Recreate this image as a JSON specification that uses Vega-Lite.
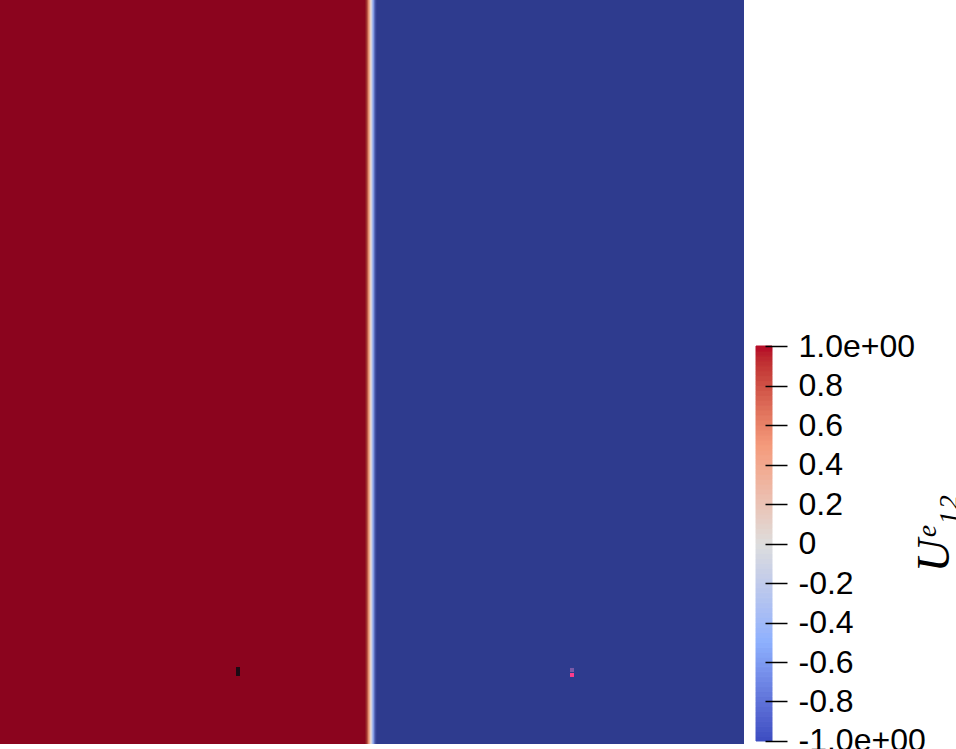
{
  "$schema": "https://vega.github.io/schema/vega-lite/v6.json",
  "padding": 0,
  "background": "white",
  "autosize": {"type": "pad"},
  "spacing": 11,
  "config": {"view": {"stroke": null}},
  "resolve": {"scale": {"color": "independent", "x": "independent", "y": "independent"}},
  "datasets": {
    "field": [
      {"x0": 0, "x1": 0.49059, "u12": 1},
      {"x0": 0.49059, "x1": 0.49194, "u12": 0.97},
      {"x0": 0.49194, "x1": 0.49328, "u12": 0.9},
      {"x0": 0.49328, "x1": 0.49462, "u12": 0.75},
      {"x0": 0.49462, "x1": 0.49597, "u12": 0.55},
      {"x0": 0.49597, "x1": 0.49731, "u12": 0.35},
      {"x0": 0.49731, "x1": 0.49866, "u12": 0.1},
      {"x0": 0.49866, "x1": 0.5, "u12": -0.12},
      {"x0": 0.5, "x1": 0.50134, "u12": -0.35},
      {"x0": 0.50134, "x1": 0.50269, "u12": -0.55},
      {"x0": 0.50269, "x1": 0.50403, "u12": -0.75},
      {"x0": 0.50403, "x1": 0.50538, "u12": -0.9},
      {"x0": 0.50538, "x1": 0.50672, "u12": -0.97},
      {"x0": 0.50672, "x1": 1, "u12": -1}
    ],
    "markers": [
      {"kind": "dark", "x0": 0.3172, "x1": 0.3226, "y0": 0.0914, "y1": 0.1035},
      {"kind": "faint", "x0": 0.7661, "x1": 0.7715, "y0": 0.0968, "y1": 0.1022},
      {"kind": "pink", "x0": 0.7661, "x1": 0.7715, "y0": 0.0901, "y1": 0.0954}
    ],
    "bar": [
      {"lo": -1, "hi": -0.975, "v": -0.9875},
      {"lo": -0.975, "hi": -0.95, "v": -0.9625},
      {"lo": -0.95, "hi": -0.925, "v": -0.9375},
      {"lo": -0.925, "hi": -0.9, "v": -0.9125},
      {"lo": -0.9, "hi": -0.875, "v": -0.8875},
      {"lo": -0.875, "hi": -0.85, "v": -0.8625},
      {"lo": -0.85, "hi": -0.825, "v": -0.8375},
      {"lo": -0.825, "hi": -0.8, "v": -0.8125},
      {"lo": -0.8, "hi": -0.775, "v": -0.7875},
      {"lo": -0.775, "hi": -0.75, "v": -0.7625},
      {"lo": -0.75, "hi": -0.725, "v": -0.7375},
      {"lo": -0.725, "hi": -0.7, "v": -0.7125},
      {"lo": -0.7, "hi": -0.675, "v": -0.6875},
      {"lo": -0.675, "hi": -0.65, "v": -0.6625},
      {"lo": -0.65, "hi": -0.625, "v": -0.6375},
      {"lo": -0.625, "hi": -0.6, "v": -0.6125},
      {"lo": -0.6, "hi": -0.575, "v": -0.5875},
      {"lo": -0.575, "hi": -0.55, "v": -0.5625},
      {"lo": -0.55, "hi": -0.525, "v": -0.5375},
      {"lo": -0.525, "hi": -0.5, "v": -0.5125},
      {"lo": -0.5, "hi": -0.475, "v": -0.4875},
      {"lo": -0.475, "hi": -0.45, "v": -0.4625},
      {"lo": -0.45, "hi": -0.425, "v": -0.4375},
      {"lo": -0.425, "hi": -0.4, "v": -0.4125},
      {"lo": -0.4, "hi": -0.375, "v": -0.3875},
      {"lo": -0.375, "hi": -0.35, "v": -0.3625},
      {"lo": -0.35, "hi": -0.325, "v": -0.3375},
      {"lo": -0.325, "hi": -0.3, "v": -0.3125},
      {"lo": -0.3, "hi": -0.275, "v": -0.2875},
      {"lo": -0.275, "hi": -0.25, "v": -0.2625},
      {"lo": -0.25, "hi": -0.225, "v": -0.2375},
      {"lo": -0.225, "hi": -0.2, "v": -0.2125},
      {"lo": -0.2, "hi": -0.175, "v": -0.1875},
      {"lo": -0.175, "hi": -0.15, "v": -0.1625},
      {"lo": -0.15, "hi": -0.125, "v": -0.1375},
      {"lo": -0.125, "hi": -0.1, "v": -0.1125},
      {"lo": -0.1, "hi": -0.075, "v": -0.0875},
      {"lo": -0.075, "hi": -0.05, "v": -0.0625},
      {"lo": -0.05, "hi": -0.025, "v": -0.0375},
      {"lo": -0.025, "hi": 0, "v": -0.0125},
      {"lo": 0, "hi": 0.025, "v": 0.0125},
      {"lo": 0.025, "hi": 0.05, "v": 0.0375},
      {"lo": 0.05, "hi": 0.075, "v": 0.0625},
      {"lo": 0.075, "hi": 0.1, "v": 0.0875},
      {"lo": 0.1, "hi": 0.125, "v": 0.1125},
      {"lo": 0.125, "hi": 0.15, "v": 0.1375},
      {"lo": 0.15, "hi": 0.175, "v": 0.1625},
      {"lo": 0.175, "hi": 0.2, "v": 0.1875},
      {"lo": 0.2, "hi": 0.225, "v": 0.2125},
      {"lo": 0.225, "hi": 0.25, "v": 0.2375},
      {"lo": 0.25, "hi": 0.275, "v": 0.2625},
      {"lo": 0.275, "hi": 0.3, "v": 0.2875},
      {"lo": 0.3, "hi": 0.325, "v": 0.3125},
      {"lo": 0.325, "hi": 0.35, "v": 0.3375},
      {"lo": 0.35, "hi": 0.375, "v": 0.3625},
      {"lo": 0.375, "hi": 0.4, "v": 0.3875},
      {"lo": 0.4, "hi": 0.425, "v": 0.4125},
      {"lo": 0.425, "hi": 0.45, "v": 0.4375},
      {"lo": 0.45, "hi": 0.475, "v": 0.4625},
      {"lo": 0.475, "hi": 0.5, "v": 0.4875},
      {"lo": 0.5, "hi": 0.525, "v": 0.5125},
      {"lo": 0.525, "hi": 0.55, "v": 0.5375},
      {"lo": 0.55, "hi": 0.575, "v": 0.5625},
      {"lo": 0.575, "hi": 0.6, "v": 0.5875},
      {"lo": 0.6, "hi": 0.625, "v": 0.6125},
      {"lo": 0.625, "hi": 0.65, "v": 0.6375},
      {"lo": 0.65, "hi": 0.675, "v": 0.6625},
      {"lo": 0.675, "hi": 0.7, "v": 0.6875},
      {"lo": 0.7, "hi": 0.725, "v": 0.7125},
      {"lo": 0.725, "hi": 0.75, "v": 0.7375},
      {"lo": 0.75, "hi": 0.775, "v": 0.7625},
      {"lo": 0.775, "hi": 0.8, "v": 0.7875},
      {"lo": 0.8, "hi": 0.825, "v": 0.8125},
      {"lo": 0.825, "hi": 0.85, "v": 0.8375},
      {"lo": 0.85, "hi": 0.875, "v": 0.8625},
      {"lo": 0.875, "hi": 0.9, "v": 0.8875},
      {"lo": 0.9, "hi": 0.925, "v": 0.9125},
      {"lo": 0.925, "hi": 0.95, "v": 0.9375},
      {"lo": 0.95, "hi": 0.975, "v": 0.9625},
      {"lo": 0.975, "hi": 1, "v": 0.9875}
    ]
  },
  "hconcat": [
    {
      "width": 744,
      "height": 744,
      "layer": [
        {
          "data": {"name": "field"},
          "mark": {"type": "rect"},
          "encoding": {
            "x": {"field": "x0", "type": "quantitative", "scale": {"domain": [0, 1], "nice": false, "zero": false}, "axis": null},
            "x2": {"field": "x1"},
            "color": {
              "field": "u12", "type": "quantitative",
              "scale": {"domain": [-1, -0.5, 0, 0.5, 1], "range": ["#2e3b8e", "#8aa6ee", "#e6e0dc", "#ec9a78", "#8b041e"], "interpolate": "lab"},
              "legend": null
            }
          }
        },
        {
          "data": {"name": "markers"},
          "transform": [{"filter": "datum.kind == 'dark'"}],
          "mark": {"type": "rect", "color": "#1c0a14"},
          "encoding": {
            "x": {"field": "x0", "type": "quantitative", "scale": {"domain": [0, 1], "nice": false, "zero": false}, "axis": null},
            "x2": {"field": "x1"},
            "y": {"field": "y0", "type": "quantitative", "scale": {"domain": [0, 1], "nice": false, "zero": false}, "axis": null},
            "y2": {"field": "y1"}
          }
        },
        {
          "data": {"name": "markers"},
          "transform": [{"filter": "datum.kind == 'faint'"}],
          "mark": {"type": "rect", "color": "#7a5aa8"},
          "encoding": {
            "x": {"field": "x0", "type": "quantitative", "axis": null},
            "x2": {"field": "x1"},
            "y": {"field": "y0", "type": "quantitative", "axis": null},
            "y2": {"field": "y1"}
          }
        },
        {
          "data": {"name": "markers"},
          "transform": [{"filter": "datum.kind == 'pink'"}],
          "mark": {"type": "rect", "color": "#ff3c8c"},
          "encoding": {
            "x": {"field": "x0", "type": "quantitative", "axis": null},
            "x2": {"field": "x1"},
            "y": {"field": "y0", "type": "quantitative", "axis": null},
            "y2": {"field": "y1"}
          }
        }
      ]
    },
    {
      "width": 16,
      "height": 744,
      "data": {"name": "bar"},
      "mark": {"type": "rect", "strokeWidth": 1},
      "encoding": {
        "y": {
          "field": "lo", "type": "quantitative",
          "scale": {"domain": [-1.0152, 2.752], "nice": false, "zero": false},
          "axis": {
            "orient": "right",
            "values": [-1, -0.8, -0.6, -0.4, -0.2, 0, 0.2, 0.4, 0.6, 0.8, 1],
            "labelExpr": "datum.value == 1 ? '1.0e+00' : (datum.value == -1 ? '-1.0e+00' : '' + datum.value)",
            "domain": false,
            "grid": false,
            "offset": -7,
            "ticks": true,
            "tickSize": 22,
            "tickWidth": 1.5,
            "tickColor": "#000000",
            "labelPadding": 11,
            "labelFont": "Liberation Sans",
            "labelFontSize": 32,
            "labelColor": "#000000",
            "labelOverlap": false,
            "labelBound": false,
            "labelFlush": false,
            "zindex": 1,
            "title": "Uᵉ₁₂",
            "titleFont": "Liberation Serif",
            "titleFontStyle": "italic",
            "titleFontWeight": "normal",
            "titleFontSize": 46,
            "titleColor": "#000000",
            "titleAngle": 270,
            "titleAlign": "center",
            "titleBaseline": "alphabetic",
            "titleX": 183,
            "titleY": 533
          }
        },
        "y2": {"field": "hi"},
        "color": {
          "field": "v", "type": "quantitative",
          "scale": {"domain": [-1, -0.5, 0, 0.5, 1], "range": ["#3b4cc0", "#8db0fe", "#dddddd", "#f49a7b", "#b40426"], "interpolate": "lab"},
          "legend": null
        },
        "stroke": {
          "field": "v", "type": "quantitative",
          "scale": {"domain": [-1, -0.5, 0, 0.5, 1], "range": ["#3b4cc0", "#8db0fe", "#dddddd", "#f49a7b", "#b40426"], "interpolate": "lab"},
          "legend": null
        }
      }
    }
  ]
}
